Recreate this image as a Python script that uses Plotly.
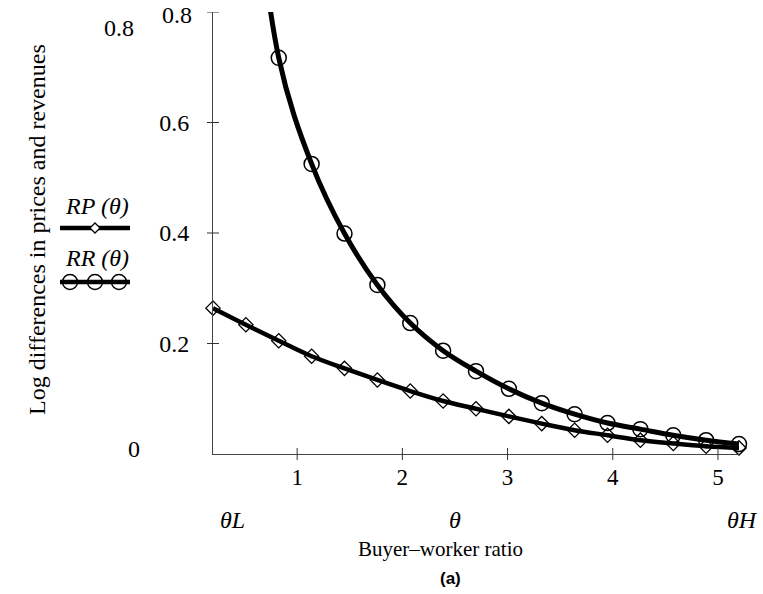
import plotly.graph_objects as go

# ---- data ----
theta = [0.2, 0.5125, 0.825, 1.1375, 1.45, 1.7625, 2.075, 2.3875, 2.7,
         3.0125, 3.325, 3.6375, 3.95, 4.2625, 4.575, 4.8875, 5.2]
rp = [0.264, 0.234, 0.205, 0.177, 0.155, 0.134, 0.114, 0.096, 0.082,
      0.068, 0.055, 0.043, 0.034, 0.025, 0.019, 0.014, 0.011]
rr = [None, 1.2, 0.717, 0.525, 0.399, 0.306, 0.237, 0.187, 0.150,
      0.118, 0.092, 0.072, 0.056, 0.045, 0.034, 0.025, 0.018]

x_ticks = [1, 2, 3, 4, 5]
x_ticklabels = ["1", "2", "3", "4", "5"]
y_ticks = [0.2, 0.4, 0.6, 0.8]
y_ticklabels = ["0.2", "0.4", "0.6", "0.8"]

SERIF = "Liberation Serif"
W, H = 763, 594
L, R, T, B = 213, 24, 12, 140
PW, PH = W - L - R, H - T - B


def px(x):
    return (x - L) / PW


def py(y):
    return (H - B - y) / PH


fig = go.Figure()

fig.add_trace(go.Scatter(
    x=theta, y=rp, mode="lines+markers", line=dict(color="black", width=4.5, shape="spline"),
    marker=dict(symbol="diamond-open", size=11, color="black", line=dict(width=1.3)),
    cliponaxis=False, showlegend=False, name="RP"))
fig.add_trace(go.Scatter(
    x=theta, y=rr, mode="lines+markers", line=dict(color="black", width=5, shape="spline"),
    marker=dict(symbol="circle-open", size=15, color="black", line=dict(width=1.5)),
    cliponaxis=False, showlegend=False, name="RR"))

shapes = []
# crossing ticks
for v in y_ticks:
    shapes.append(dict(type="line", xref="paper", yref="y", x0=-6 / PW, x1=6 / PW,
                       y0=v, y1=v, line=dict(color="#333", width=1)))
for v in x_ticks:
    shapes.append(dict(type="line", xref="x", yref="paper", x0=v, x1=v,
                       y0=-6 / PH, y1=6 / PH, line=dict(color="#333", width=1)))

# legend glyphs
shapes.append(dict(type="line", xref="paper", yref="paper", x0=px(60), x1=px(130),
                   y0=py(228), y1=py(228), line=dict(color="black", width=4.5)))
shapes.append(dict(type="path", xref="paper", yref="paper", xsizemode="pixel", ysizemode="pixel",
                   xanchor=px(95), yanchor=py(228), path="M -5 0 L 0 5 L 5 0 L 0 -5 Z",
                   line=dict(color="black", width=1.3), fillcolor="white"))
shapes.append(dict(type="line", xref="paper", yref="paper", x0=px(60), x1=px(130),
                   y0=py(282), y1=py(282), line=dict(color="black", width=4.5)))
for cx in (70, 95, 119):
    shapes.append(dict(type="circle", xref="paper", yref="paper", xsizemode="pixel", ysizemode="pixel",
                       xanchor=px(cx), yanchor=py(282), x0=-7.5, x1=7.5, y0=-7.5, y1=7.5,
                       line=dict(color="black", width=1.5)))

ann = []


def add_text(text, x, y, size, family=SERIF, xanchor="center", angle=0):
    ann.append(dict(text=text, xref="paper", yref="paper", x=px(x), y=py(y),
                    xanchor=xanchor, yanchor="middle", showarrow=False, textangle=angle,
                    font=dict(family=family, size=size, color="black")))


add_text("<i>RP (θ)</i>", 97, 206, 24)
add_text("<i>RR (θ)</i>", 97, 258, 24)
add_text("0.8", 119, 28, 24)
add_text("0.8", 177, 15, 24)
add_text("0", 134, 449, 24)
add_text("<i>θL</i>", 232, 520, 24)
add_text("<i>θ</i>", 455, 520, 24)
add_text("<i>θH</i>", 742, 520, 24)
add_text("Buyer–worker ratio", 440, 549, 21)
add_text("<b>(a)</b>", 450, 578, 17, family="Liberation Sans")
add_text("Log differences in prices and revenues", 37, 230, 24, angle=-90)

fig.update_layout(
    width=W, height=H, margin=dict(l=L, r=R, t=T, b=B),
    paper_bgcolor="white", plot_bgcolor="white",
    shapes=shapes, annotations=ann,
    font=dict(family=SERIF, size=24, color="black"),
    xaxis=dict(range=[0.2, 5.2], tickvals=x_ticks, ticktext=x_ticklabels, ticks="",
               showline=True, linecolor="#444", linewidth=1, showgrid=False, zeroline=False,
               ticklabelstandoff=2, tickfont=dict(family=SERIF, size=23)),
    yaxis=dict(range=[0, 0.8], tickvals=y_ticks[:-1], ticktext=y_ticklabels[:-1], ticks="",
               showline=True, linecolor="#444", linewidth=1, showgrid=False, zeroline=False,
               ticklabelstandoff=18, tickfont=dict(family=SERIF, size=24)),
)

fig.write_html("out.html")
